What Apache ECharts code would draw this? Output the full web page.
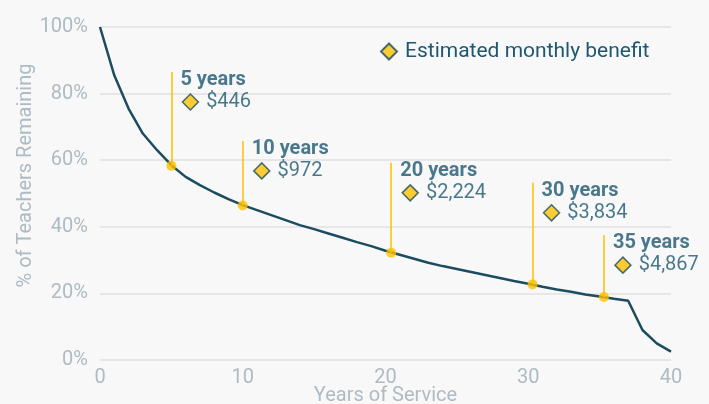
<!DOCTYPE html>
<html>
<head>
    <meta charset="utf-8">
    <title>Teacher retention</title>
    <script src="https://cdn.jsdelivr.net/npm/echarts@6/dist/echarts.min.js"></script>
</head>
<body style="background-color:#f8f8f8;margin:0px;">
    <div id="main" style="width:709px;height:404px;"></div>
    <script type="text/javascript">
        // retention curve, one point per year of service
        var years = [0, 1, 2, 3, 4, 5, 6, 7, 8, 9, 10, 11, 12, 13, 14, 15, 16, 17, 18, 19, 20,
            21, 22, 23, 24, 25, 26, 27, 28, 29, 30, 31, 32, 33, 34, 35, 36, 37, 38, 39, 40];
        var retention = [100, 85.5, 75.5, 68, 63, 58.5, 55, 52.5, 50.3, 48.3, 46.5, 45, 43.5, 42, 40.5, 39.3, 38, 36.7, 35.4, 34.2, 32.8,
            31.6, 30.4, 29.2, 28.2, 27.3, 26.4, 25.5, 24.6, 23.7, 22.9, 22.0, 21.2, 20.5, 19.7, 19.1, 18.4, 17.8, 9, 5, 2.5];

        // milestones
        var milestoneYears = [5, 10, 20.4, 30.3, 35.3];
        var milestoneRetention = [58.3, 46.4, 32.2, 22.7, 18.9];
        var labelTops = [86.5, 65.8, 59.2, 53.2, 37.5];
        var milestoneNames = ['5 years', '10 years', '20 years', '30 years', '35 years'];
        var benefits = ['$446', '$972', '$2,224', '$3,834', '$4,867'];

        var yTicks = [0, 20, 40, 60, 80, 100];
        var xTicks = [0, 10, 20, 30, 40];

        var teal = '#1b4c5f';
        var textTeal = '#1d5870';
        var yellow = '#fcc000';
        var gray = '#aebbc3';
        var fontName = 'Roboto';

        var curve = [];
        for (var i = 0; i < years.length; i++) {
            curve.push([years[i], retention[i]]);
        }
        var dots = [], tops = [], lines = [];
        for (var j = 0; j < milestoneYears.length; j++) {
            dots.push([milestoneYears[j], milestoneRetention[j]]);
            tops.push({ value: [milestoneYears[j], labelTops[j]], name: milestoneNames[j], benefit: benefits[j] });
            lines.push([{ coord: [milestoneYears[j], milestoneRetention[j]] }, { coord: [milestoneYears[j], labelTops[j]] }]);
        }

        var myChart = echarts.init(document.getElementById('main'));
        var option = {
            backgroundColor: '#f8f8f8',
            animation: false,
            textStyle: { fontFamily: fontName },
            grid: { left: 100, right: 38, top: 27, bottom: 44, outerBoundsMode: 'none', containLabel: false },
            legend: {
                data: ['Estimated monthly benefit'],
                left: 375, top: 36,
                itemWidth: 16, itemHeight: 16,
                textStyle: { color: textTeal, fontSize: 21, fontFamily: fontName, padding: [0, 0, 0, 3] }
            },
            xAxis: {
                type: 'value', min: xTicks[0], max: xTicks[xTicks.length - 1], interval: 10,
                name: 'Years of Service', nameLocation: 'middle', nameGap: 26, nameMoveOverlap: false,
                nameTextStyle: { color: gray, fontSize: 20, fontFamily: fontName },
                axisLine: { show: false }, axisTick: { show: false },
                splitLine: { show: false },
                axisLabel: { color: gray, fontSize: 20, margin: 8 }
            },
            yAxis: {
                type: 'value', min: yTicks[0], max: yTicks[yTicks.length - 1], interval: 20,
                name: '% of Teachers Remaining', nameLocation: 'middle', nameGap: 64, nameMoveOverlap: false,
                nameTextStyle: { color: gray, fontSize: 20, fontFamily: fontName, padding: [0, 0, 0, 36] },
                axisLine: { show: false }, axisTick: { show: false },
                splitLine: { lineStyle: { color: '#e2e2e2', width: 1.5 } },
                axisLabel: { color: gray, fontSize: 20, margin: 12, formatter: '{value}%' }
            },
            series: [
                {
                    name: 'retention', type: 'line', data: curve, showSymbol: false,
                    lineStyle: { color: teal, width: 2.5 }, z: 2
                },
                {
                    name: 'milestones', type: 'scatter', data: dots, symbolSize: 10,
                    itemStyle: { color: yellow }, z: 4,
                    markLine: {
                        silent: true, symbol: ['none', 'none'],
                        lineStyle: { color: yellow, width: 1.5, type: 'solid' },
                        label: { show: false }, data: lines
                    }
                },
                {
                    name: 'milestoneNames', type: 'scatter', data: tops, symbolSize: 0,
                    label: {
                        show: true, position: [9, 8], align: 'left', verticalAlign: 'middle',
                        color: textTeal, fontSize: 20, fontWeight: 'bold', fontFamily: fontName,
                        formatter: function (p) { return p.name; }
                    }
                },
                {
                    name: 'Estimated monthly benefit', type: 'scatter', data: tops,
                    symbol: 'diamond', symbolSize: 16, symbolOffset: [19, 30],
                    itemStyle: { color: yellow, borderColor: teal, borderWidth: 1.5 },
                    label: {
                        show: true, position: 'right', distance: 7,
                        color: textTeal, fontSize: 20, fontFamily: fontName,
                        formatter: function (p) { return p.data.benefit; }
                    }, z: 5
                }
            ]
        };
        myChart.setOption(option);
    </script>
</body>
</html>
